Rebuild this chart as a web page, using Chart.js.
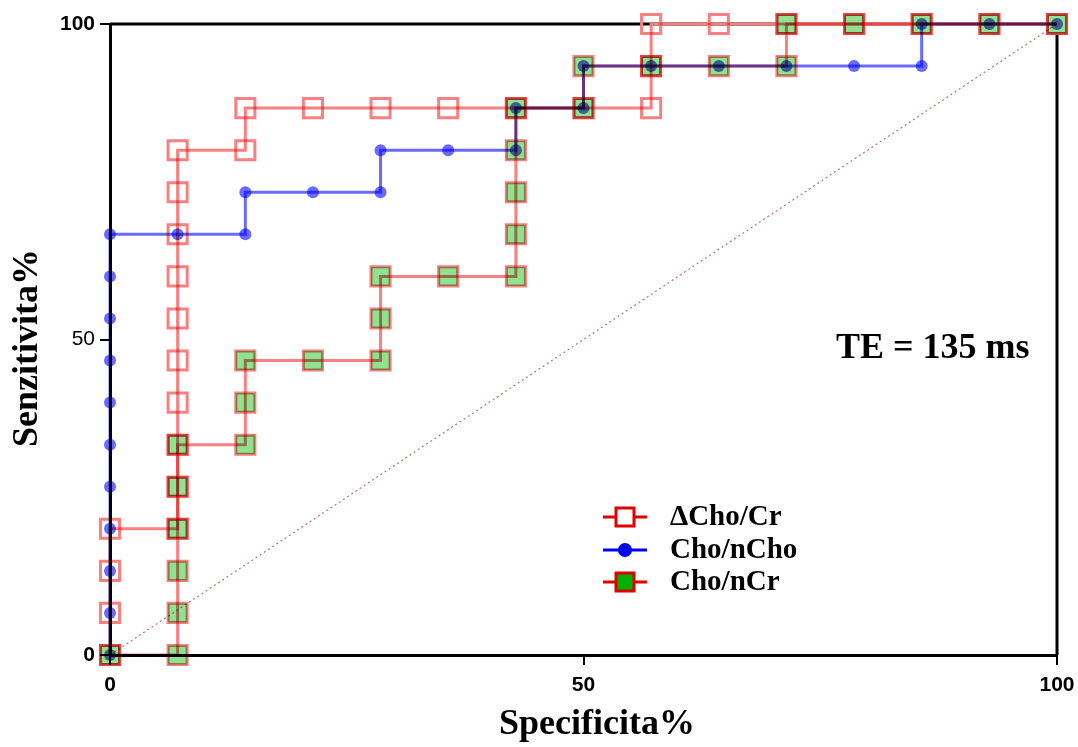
<!DOCTYPE html>
<html>
<head>
<meta charset="utf-8">
<script src="https://cdn.jsdelivr.net/npm/chart.js@4.4.1/dist/chart.umd.min.js"></script>
<style>
  html, body { margin: 0; padding: 0; background: #fff; }
  #wrap { width: 1078px; height: 747px; }
</style>
</head>
<body>
<div id="wrap"><canvas id="roc" width="1078" height="747"></canvas></div>
<script>
// specificity (x) / sensitivity (y) points for each ROC curve, in %
const dchoX = [0, 0, 0, 0, 7.14, 7.14, 7.14, 7.14, 7.14, 7.14, 7.14, 7.14, 7.14, 7.14, 14.29, 14.29, 21.43, 28.57, 35.71, 42.86, 50, 57.14, 57.14, 57.14, 64.29, 71.43, 78.57, 85.71, 92.86, 100];
const dchoY = [0, 6.67, 13.33, 20, 20, 26.67, 33.33, 40, 46.67, 53.33, 60, 66.67, 73.33, 80, 80, 86.67, 86.67, 86.67, 86.67, 86.67, 86.67, 86.67, 93.33, 100, 100, 100, 100, 100, 100, 100];

const nchoX = [0, 0, 0, 0, 0, 0, 0, 0, 0, 0, 0, 7.14, 14.29, 14.29, 21.43, 28.57, 28.57, 35.71, 42.86, 42.86, 50, 50, 57.14, 64.29, 71.43, 78.57, 85.71, 85.71, 92.86, 100];
const nchoY = [0, 6.67, 13.33, 20, 26.67, 33.33, 40, 46.67, 53.33, 60, 66.67, 66.67, 66.67, 73.33, 73.33, 73.33, 80, 80, 80, 86.67, 86.67, 93.33, 93.33, 93.33, 93.33, 93.33, 93.33, 100, 100, 100];

const ncrX = [0, 7.14, 7.14, 7.14, 7.14, 7.14, 7.14, 14.29, 14.29, 14.29, 21.43, 28.57, 28.57, 28.57, 35.71, 42.86, 42.86, 42.86, 42.86, 42.86, 50, 50, 57.14, 64.29, 71.43, 71.43, 78.57, 85.71, 92.86, 100];
const ncrY = [0, 0, 6.67, 13.33, 20, 26.67, 33.33, 33.33, 40, 46.67, 46.67, 46.67, 53.33, 60, 60, 60, 66.67, 73.33, 80, 86.67, 86.67, 93.33, 93.33, 93.33, 93.33, 100, 100, 100, 100, 100];

const refX = [0, 100];
const refY = [0, 100];

const seriesNames = ['\u0394Cho/Cr', 'Cho/nCho', 'Cho/nCr'];
const xTicks = [0, 50, 100];
const yTicks = [0, 50, 100];

const PINK = '#f88080';
const BLUE = '#6a6aff';
const GREEN = '#90e290';

const toPoints = (xs, ys) => xs.map((x, i) => ({ x, y: ys[i] }));

// draw the curves with multiply so overlaps darken like the original figure
const blendPlugin = {
  id: 'blend',
  beforeDatasetsDraw(chart) {
    chart.ctx.save();
    chart.ctx.globalCompositeOperation = 'multiply';
  },
  afterDatasetsDraw(chart) {
    const ctx = chart.ctx;
    ctx.restore();
    // top and right frame lines, behind the curves
    const a = chart.chartArea;
    ctx.save();
    ctx.globalCompositeOperation = 'destination-over';
    ctx.strokeStyle = '#000';
    ctx.lineWidth = 3;
    ctx.beginPath();
    ctx.moveTo(a.left, a.top);
    ctx.lineTo(a.right, a.top);
    ctx.lineTo(a.right, a.bottom);
    ctx.stroke();
    ctx.restore();
  }
};

const labelsPlugin = {
  id: 'labels',
  afterDraw(chart) {
    const ctx = chart.ctx;
    ctx.save();
    ctx.fillStyle = '#000';
    ctx.font = 'bold 36px "Liberation Serif", "Times New Roman", serif';

    // axis titles
    ctx.textAlign = 'center';
    ctx.textBaseline = 'alphabetic';
    ctx.fillText('Specificita%', 597, 734);
    ctx.save();
    ctx.translate(37, 348);
    ctx.rotate(-Math.PI / 2);
    ctx.fillText('Senzitivita%', 0, 0);
    ctx.restore();

    // annotation
    ctx.textAlign = 'left';
    ctx.fillText('TE = 135 ms', 836, 358);

    // legend
    const rows = [517, 550, 582];
    ctx.font = 'bold 29px "Liberation Serif", "Times New Roman", serif';
    ctx.textBaseline = 'middle';
    rows.forEach((y, i) => {
      ctx.lineWidth = 3;
      ctx.strokeStyle = i === 1 ? '#0000ee' : '#e00000';
      ctx.beginPath();
      ctx.moveTo(603, y);
      ctx.lineTo(647, y);
      ctx.stroke();
      if (i === 1) {
        ctx.fillStyle = '#0000ee';
        ctx.beginPath();
        ctx.arc(625, y, 7, 0, Math.PI * 2);
        ctx.fill();
      } else {
        ctx.fillStyle = i === 0 ? '#fff' : '#00b000';
        ctx.fillRect(616, y - 9, 18, 18);
        ctx.strokeRect(616, y - 9, 18, 18);
      }
      ctx.fillStyle = '#000';
      ctx.fillText(seriesNames[i], 670, y + 1);
    });
    ctx.restore();
  }
};

const tickFont = { family: '"Liberation Sans", Arial, sans-serif', size: 21, weight: 'bold' };

const config = {
  type: 'scatter',
  data: {
    datasets: [
      {
        label: 'reference',
        data: toPoints(refX, refY),
        showLine: true,
        borderColor: '#c07070',
        borderWidth: 1.2,
        borderDash: [2, 3],
        pointRadius: 0,
        clip: false,
      },
      {
        label: seriesNames[0],
        data: toPoints(dchoX, dchoY),
        showLine: true,
        borderColor: PINK,
        borderWidth: 3,
        pointStyle: 'rect',
        pointRadius: 13.5,
        pointBorderWidth: 3,
        pointBorderColor: PINK,
        pointBackgroundColor: 'rgba(255,255,255,0)',
        clip: false,
      },
      {
        label: seriesNames[1],
        data: toPoints(nchoX, nchoY),
        showLine: true,
        borderColor: BLUE,
        borderWidth: 3,
        pointStyle: 'circle',
        pointRadius: 6,
        pointBorderWidth: 0,
        pointBackgroundColor: BLUE,
        clip: false,
      },
      {
        label: seriesNames[2],
        data: toPoints(ncrX, ncrY),
        showLine: true,
        borderColor: PINK,
        borderWidth: 3,
        pointStyle: 'rect',
        pointRadius: 13.5,
        pointBorderWidth: 3,
        pointBorderColor: PINK,
        pointBackgroundColor: GREEN,
        clip: false,
      },
    ],
  },
  options: {
    responsive: false,
    animation: false,
    layout: { padding: { top: 24, right: 21, left: 0, bottom: 0 } },
    plugins: {
      legend: { display: false },
      tooltip: { enabled: false },
    },
    scales: {
      x: {
        type: 'linear',
        min: 0,
        max: 100,
        afterFit: (s) => { s.height = 92; s.paddingLeft = 0; s.paddingRight = 0; },
        afterBuildTicks: (s) => { s.ticks = xTicks.map((v) => ({ value: v })); },
        border: { color: '#000', width: 3 },
        grid: { drawOnChartArea: false, drawTicks: true, tickLength: 10, color: '#000', lineWidth: 2 },
        ticks: { color: '#000', font: tickFont, padding: 8, maxRotation: 0 },
      },
      y: {
        type: 'linear',
        min: 0,
        max: 100,
        afterFit: (s) => { s.width = 110; s.paddingTop = 0; s.paddingBottom = 0; },
        afterBuildTicks: (s) => { s.ticks = yTicks.map((v) => ({ value: v })); },
        border: { color: '#000', width: 3 },
        grid: { drawOnChartArea: false, drawTicks: true, tickLength: 10, color: '#000', lineWidth: 2 },
        ticks: {
          color: '#000',
          padding: 5,
          font: (c) => ({ ...tickFont, weight: c.tick && c.tick.value === 50 ? 'normal' : 'bold' }),
        },
      },
    },
  },
  plugins: [blendPlugin, labelsPlugin],
};

new Chart(document.getElementById('roc').getContext('2d'), config);
</script>
</body>
</html>
